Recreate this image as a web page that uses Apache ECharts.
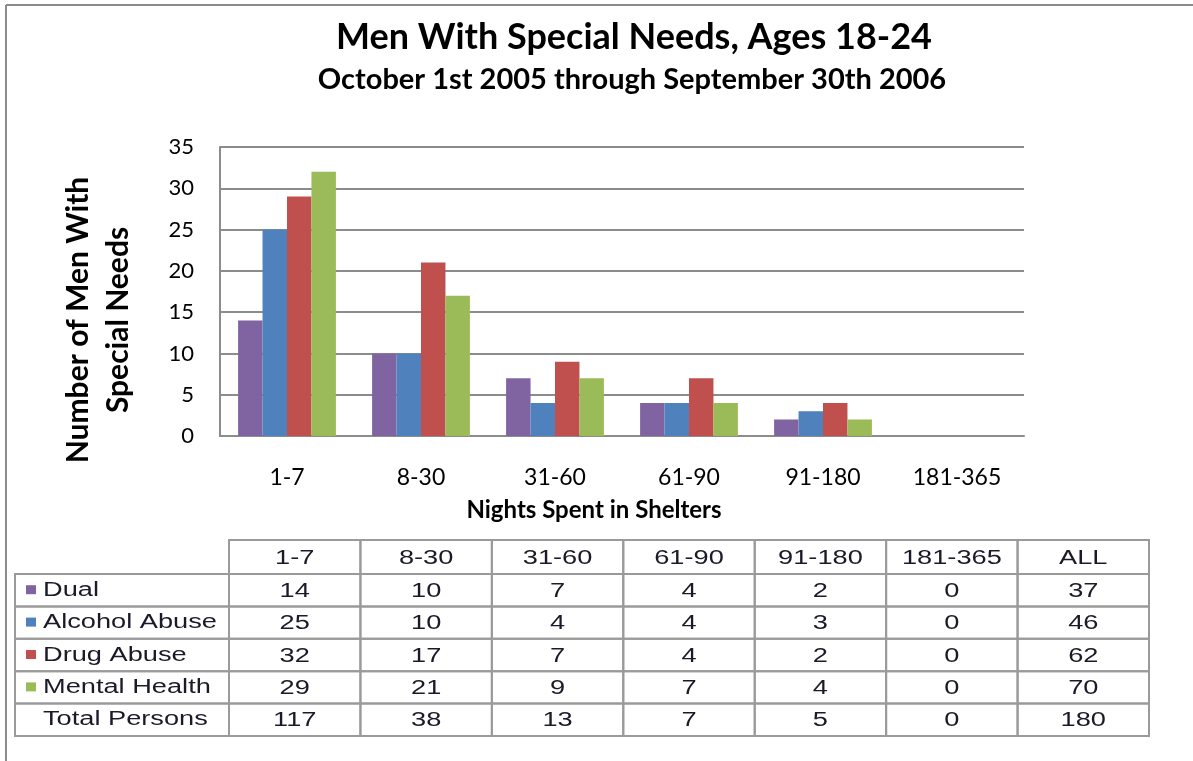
<!DOCTYPE html>
<html>
<head>
<meta charset="utf-8">
<script src="https://cdn.jsdelivr.net/npm/echarts@6/dist/echarts.min.js"></script>
<style>
html,body{margin:0;padding:0;background:#fff;}
#chart{width:1193px;height:761px;}
</style>
</head>
<body>
<div id="chart"></div>
<script>
// ---- data ----
const categories = ['1-7', '8-30', '31-60', '61-90', '91-180', '181-365'];
const dual = [14, 10, 7, 4, 2, 0];
const alcoholAbuse = [25, 10, 4, 4, 3, 0];
const drugAbuse = [32, 17, 7, 4, 2, 0];
const mentalHealth = [29, 21, 9, 7, 4, 0];
const totalPersons = [117, 38, 13, 7, 5, 0];
const allColumn = [37, 46, 62, 70, 180];
const tableHeaders = ['1-7', '8-30', '31-60', '61-90', '91-180', '181-365', 'ALL'];
const rowLabels = ['Dual', 'Alcohol Abuse', 'Drug Abuse', 'Mental Health', 'Total Persons'];
const yTicks = { min: 0, max: 35, interval: 5 };

const titleText = 'Men With Special Needs, Ages 18-24';
const subtitleText = 'October 1st 2005 through September 30th 2006';
const yName = 'Number of Men With\nSpecial Needs';
const xName = 'Nights Spent in Shelters';

// ---- styles ----
const C_PURPLE = '#8064A2', C_BLUE = '#4F81BD', C_RED = '#C0504D', C_GREEN = '#9BBB59';
const FONT = 'Lato, "Open Sans", sans-serif';
const TFONT = '"Liberation Sans", Arial, sans-serif';
const GRID_COLOR = '#8c8c8c';
const TXT = '#1a1a28';
const SX = 1.36; // table text horizontal stretch

const chart = echarts.init(document.getElementById('chart'), null, { renderer: 'canvas' });

// table geometry
const tbl = { x0: 15, x1: 229, colW: (1149 - 229) / 7, top: 540, headH: 34, rowH: 32.4 };
const rowColors = [C_PURPLE, C_BLUE, C_RED, C_GREEN, null];
const rowValues = [dual, alcoholAbuse, drugAbuse, mentalHealth, totalPersons];

const graphics = [];
// frame
graphics.push({ type: 'line', shape: { x1: 6, y1: 5, x2: 1193, y2: 5 }, style: { stroke: '#8a8a8a', lineWidth: 2 } });
graphics.push({ type: 'line', shape: { x1: 6, y1: 5, x2: 6, y2: 761 }, style: { stroke: '#8a8a8a', lineWidth: 2 } });
// titles
graphics.push({ type: 'text', x: 634, y: 37, style: { text: titleText, align: 'center', verticalAlign: 'middle', font: 'bold 36px ' + FONT, fill: '#000' } });
graphics.push({ type: 'text', x: 632, y: 80, style: { text: subtitleText, align: 'center', verticalAlign: 'middle', font: 'bold 29px ' + FONT, fill: '#000' } });
// axis names
graphics.push({ type: 'text', x: 98, y: 320, rotation: Math.PI / 2, style: { text: yName, align: 'center', verticalAlign: 'middle', font: 'bold 30px ' + FONT, lineHeight: 40, fill: '#000' } });
graphics.push({ type: 'text', x: 594, y: 510, style: { text: xName, align: 'center', verticalAlign: 'middle', font: 'bold 24px ' + FONT, fill: '#000' } });

// table
const lineStyle = { stroke: '#9a9a9a', lineWidth: 2, fill: null };
const cellText = (x, y, t, align) => ({ type: 'text', x: x, y: y, scaleX: SX, style: { text: t, align: align, verticalAlign: 'middle', font: '20px ' + TFONT, fill: TXT } });
tableHeaders.forEach((h, i) => {
  const x = tbl.x1 + i * tbl.colW;
  graphics.push({ type: 'rect', shape: { x: x, y: tbl.top, width: tbl.colW, height: tbl.headH }, style: Object.assign({}, lineStyle) });
  graphics.push(cellText(x + tbl.colW / 2, tbl.top + tbl.headH / 2 + 1, h, 'center'));
});
const bodyTop = tbl.top + tbl.headH;
rowLabels.forEach((lab, r) => {
  const y = bodyTop + r * tbl.rowH;
  graphics.push({ type: 'rect', shape: { x: tbl.x0, y: y, width: tbl.x1 - tbl.x0, height: tbl.rowH }, style: Object.assign({}, lineStyle) });
  if (rowColors[r]) {
    graphics.push({ type: 'rect', shape: { x: 26, y: y + tbl.rowH / 2 - 5, width: 10, height: 9 }, style: { fill: rowColors[r] } });
  }
  graphics.push(cellText(43, y + tbl.rowH / 2, lab, 'left'));
  const vals = rowValues[r].concat([allColumn[r]]);
  vals.forEach((v, c) => {
    const x = tbl.x1 + c * tbl.colW;
    graphics.push({ type: 'rect', shape: { x: x, y: y, width: tbl.colW, height: tbl.rowH }, style: Object.assign({}, lineStyle) });
    graphics.push(cellText(x + tbl.colW / 2, y + tbl.rowH / 2 + 1, String(v), 'center'));
  });
});

const option = {
  animation: false,
  backgroundColor: '#fff',
  grid: { left: 220, right: 169, top: 147, bottom: 325, containLabel: false },
  xAxis: {
    type: 'category',
    data: categories,
    axisLine: { show: true, lineStyle: { color: GRID_COLOR, width: 2 } },
    axisTick: { show: false },
    axisLabel: { color: '#000', fontFamily: FONT, fontSize: 23, margin: 30 },
    splitLine: { show: false }
  },
  yAxis: {
    type: 'value',
    min: yTicks.min, max: yTicks.max, interval: yTicks.interval,
    axisLine: { show: true, lineStyle: { color: GRID_COLOR, width: 2 } },
    axisTick: { show: false },
    axisLabel: { color: '#000', fontFamily: FONT, fontSize: 22, margin: 26 },
    splitLine: { show: true, lineStyle: { color: GRID_COLOR, width: 2 } }
  },
  series: [
    { name: 'Dual', type: 'bar', data: dual, itemStyle: { color: C_PURPLE }, barGap: '0%', barCategoryGap: '27%' },
    { name: 'Alcohol Abuse', type: 'bar', data: alcoholAbuse, itemStyle: { color: C_BLUE } },
    { name: 'Mental Health', type: 'bar', data: mentalHealth, itemStyle: { color: C_RED } },
    { name: 'Drug Abuse', type: 'bar', data: drugAbuse, itemStyle: { color: C_GREEN } }
  ],
  graphic: graphics
};
chart.setOption(option);
</script>
</body>
</html>
